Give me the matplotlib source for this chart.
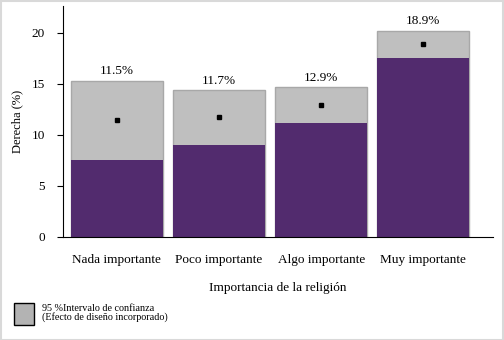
import matplotlib

matplotlib.use("Agg")
import matplotlib.pyplot as plt
from matplotlib.patches import Rectangle

plt.rcParams["font.family"] = ["Liberation Serif", "DejaVu Serif"]

categories = ["Nada importante", "Poco importante", "Algo importante", "Muy importante"]
estimate = [11.5, 11.7, 12.9, 18.9]
ci_low = [7.5, 9.0, 11.15, 17.5]
ci_high = [15.3, 14.35, 14.65, 20.2]
labels = ["11.5%", "11.7%", "12.9%", "18.9%"]

PURPLE = "#522b6e"
GRAY = "#bfbfbf"

fig = plt.figure(figsize=(5.04, 3.40), dpi=100)
ax = fig.add_axes([0.125, 0.303, 0.853, 0.679])

xs = range(len(categories))
ax.bar(xs, ci_high, 0.9, color=GRAY, edgecolor="#a8a8a8", linewidth=1)
ax.bar(xs, ci_low, 0.9, color=PURPLE, linewidth=0)
ax.plot(xs, estimate, "s", color="black", markersize=2.5)
for x, top, lab in zip(xs, ci_high, labels):
    ax.text(x, top + 0.35, lab, ha="center", va="bottom", fontsize=9.5)

ax.set_xlim(-0.526, 3.68)
ax.set_ylim(0, 22.6)
ax.set_yticks([0, 5, 10, 15, 20])
ax.set_xticks(list(xs))
ax.set_xticklabels(categories, fontsize=9.5)
ax.tick_params(axis="x", length=0, pad=12)
ax.tick_params(axis="y", length=4, labelsize=9.5, pad=9)
ax.spines["top"].set_visible(False)
ax.spines["right"].set_visible(False)
ax.set_ylabel("Derecha (%)", fontsize=9, labelpad=6)
ax.set_xlabel("Importancia de la religión", fontsize=9.5, labelpad=12)

# legend block, bottom left
fig.add_artist(Rectangle((14 / 504, 1 - 325 / 340), 20 / 504, 22 / 340,
                         transform=fig.transFigure, facecolor="#b3b3b3",
                         edgecolor="black", linewidth=1))
fig.text(42 / 504, 1 - 313 / 340, "95 %Intervalo de confianza\n(Efecto de diseño incorporado)",
         fontsize=7.3, va="center", ha="left", linespacing=1.0)

# light frame around the figure
fig.add_artist(Rectangle((0.001, 0.001), 0.997, 0.996, transform=fig.transFigure,
                         fill=False, edgecolor="#d9d9d9", linewidth=1.5))

fig.savefig("out.png", dpi=100)
